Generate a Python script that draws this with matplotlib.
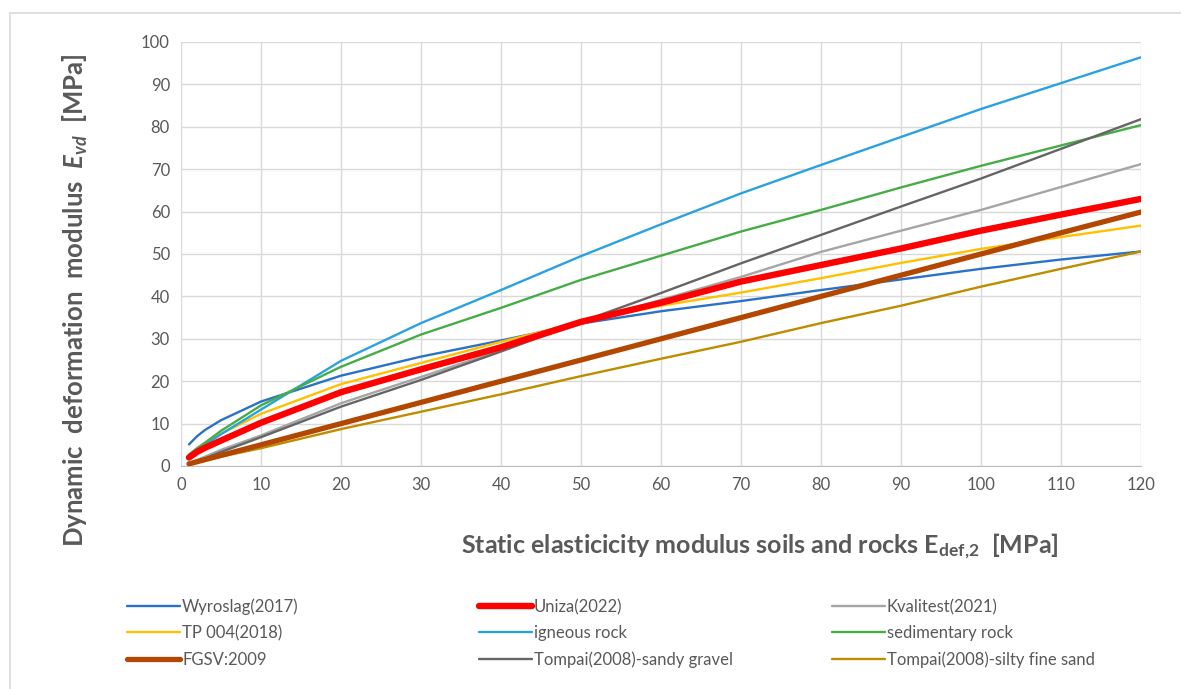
import matplotlib

matplotlib.use("Agg")
import matplotlib.pyplot as plt  # noqa: E402
from matplotlib.patches import Rectangle  # noqa: E402

plt.rcParams["font.family"] = ["Lato", "DejaVu Sans"]
plt.rcParams["mathtext.fontset"] = "custom"
plt.rcParams["mathtext.rm"] = "Lato:bold"
plt.rcParams["mathtext.it"] = "Lato:bold:italic"
plt.rcParams["mathtext.bf"] = "Lato:bold"

# static modulus E_def,2 [MPa]
e_def2 = [1, 2, 3, 5, 10, 20, 30, 40, 50, 60, 70, 80, 90, 100, 110, 120]

wyroslag = [5.1, 7.0, 8.5, 10.8, 15.2, 21.3, 25.8, 29.6, 33.6, 36.5, 38.9, 41.5, 44.0, 46.5, 48.7, 50.6]
uniza = [2.0, 3.3, 4.3, 6.0, 10.2, 17.4, 22.8, 28.0, 34.0, 38.5, 43.5, 47.4, 51.3, 55.5, 59.3, 63.0]
kvalitest = [0.6, 1.4, 2.2, 3.8, 7.2, 14.8, 21.0, 27.3, 33.5, 39.2, 44.6, 50.5, 55.5, 60.4, 65.8, 71.2]
tp004 = [2.2, 3.8, 5.0, 7.6, 12.3, 19.3, 24.3, 29.3, 34.0, 37.8, 40.9, 44.3, 47.9, 51.2, 54.0, 56.7]
igneous = [2.4, 3.8, 5.0, 7.5, 13.3, 24.8, 33.7, 41.5, 49.5, 57.0, 64.3, 71.0, 77.6, 84.2, 90.3, 96.4]
sedimentary = [2.7, 4.2, 5.5, 8.3, 14.3, 23.4, 31.0, 37.3, 43.9, 49.6, 55.3, 60.4, 65.7, 70.8, 75.6, 80.4]
fgsv = [0.5, 1.0, 1.5, 2.5, 5.0, 10.0, 15.0, 20.0, 25.0, 30.0, 35.0, 40.0, 45.0, 50.0, 55.0, 59.9]
sandy_gravel = [0.4, 1.1, 1.8, 3.3, 6.8, 14.0, 20.3, 27.0, 34.0, 40.8, 47.8, 54.5, 61.2, 67.8, 74.8, 81.8]
silty_sand = [0.3, 0.8, 1.3, 2.2, 4.2, 8.7, 12.8, 16.9, 21.2, 25.3, 29.3, 33.7, 37.8, 42.3, 46.5, 50.6]

x_ticks = list(range(0, 121, 10))
y_ticks = list(range(0, 101, 10))

# label, values, colour, width, zorder
series = [
    ("Wyroslag(2017)", wyroslag, "#2a72c8", 1.7, 3),
    ("Uniza(2022)", uniza, "#ff0000", 4.6, 5),
    ("Kvalitest(2021)", kvalitest, "#a5a5a5", 1.7, 3),
    ("TP 004(2018)", tp004, "#ffc000", 1.7, 3),
    ("igneous rock", igneous, "#2aa2e0", 1.7, 3),
    ("sedimentary rock", sedimentary, "#46ad46", 1.7, 3),
    ("FGSV:2009", fgsv, "#b34700", 3.8, 4),
    ("Tompai(2008)-sandy gravel", sandy_gravel, "#656565", 1.7, 3),
    ("Tompai(2008)-silty fine sand", silty_sand, "#bf8c00", 1.7, 3),
]

fig = plt.figure(figsize=(11.81, 6.89), dpi=100)
fig.patch.set_facecolor("white")
fig.patches.append(Rectangle((10 / 1181, -0.2), 1.5, 1.2 - 13 / 689, transform=fig.transFigure,
                             fill=False, edgecolor="#d9d9d9", linewidth=1.2))

ax = fig.add_axes([181 / 1181, 1 - 466 / 689, 960 / 1181, 424 / 689])
handles = {}
for label, values, color, lw, z in series:
    (line,) = ax.plot(e_def2, values, color=color, linewidth=lw, label=label,
                      solid_capstyle="round", zorder=z)
    handles[label] = line

ax.set_xlim(0, 120)
ax.set_ylim(0, 100)
ax.set_xticks(x_ticks)
ax.set_yticks(y_ticks)
ax.grid(True, color="#d9d9d9", linewidth=1.0)
ax.set_axisbelow(True)
for name, spine in ax.spines.items():
    spine.set_visible(name == "bottom")
ax.spines["bottom"].set_color("#bfbfbf")
ax.tick_params(length=0, labelsize=12, colors="#595959", pad=8)

fig.text(75 / 1181, 1 - 300 / 689, "Dynamic  deformation  modulus  $E_{vd}$  [MPa]",
         rotation=90, ha="center", va="center", fontsize=18.5, fontweight="bold", color="#595959")
fig.text(760 / 1181, 1 - 547 / 689, r"Static elasticicity modulus soils and rocks E$_{\mathbf{def{,}2}}$  [MPa]",
         ha="center", va="center", fontsize=18, fontweight="bold", color="#595959")

# legend, row by row, one small legend per entry so rows and columns line up
legend_rows = [
    ["Wyroslag(2017)", "Uniza(2022)", "Kvalitest(2021)"],
    ["TP 004(2018)", "igneous rock", "sedimentary rock"],
    ["FGSV:2009", "Tompai(2008)-sandy gravel", "Tompai(2008)-silty fine sand"],
]
col_x = [127, 479, 832]
row_y = [607, 633, 660]
for ry, labels in zip(row_y, legend_rows):
    for cx, label in zip(col_x, labels):
        leg = fig.legend([handles[label]], [label], loc="center left",
                         bbox_to_anchor=(cx / 1181, 1 - ry / 689), frameon=False,
                         fontsize=12, handlelength=3.2, handletextpad=0.1,
                         borderpad=0, borderaxespad=0)
        leg.get_texts()[0].set_color("#595959")

fig.savefig("out.png", dpi=100, facecolor="white")
